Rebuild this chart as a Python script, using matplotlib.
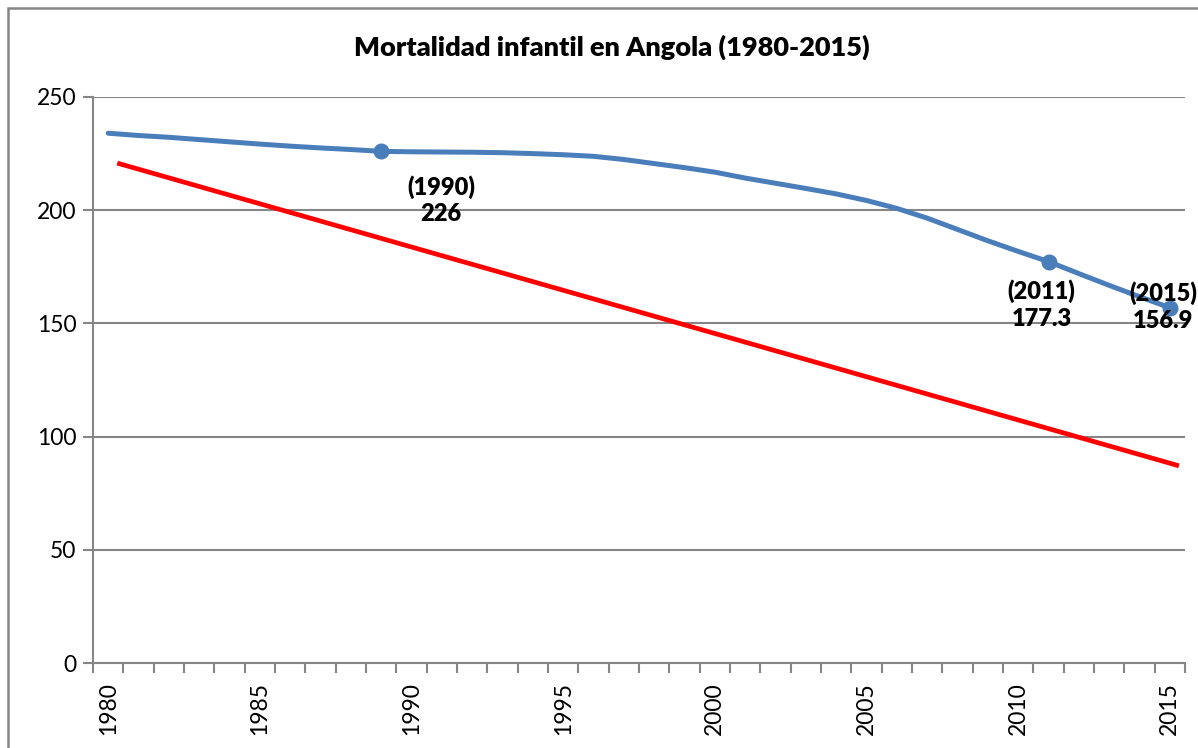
import matplotlib
matplotlib.use("Agg")
import matplotlib.pyplot as plt
from matplotlib.patches import Rectangle
import numpy as np

# ---- data ----
years = list(range(1980, 2016))
mortality = [234.0, 233.0, 232.2, 231.2, 230.2, 229.2, 228.3, 227.5, 226.8, 226.0,
             225.8, 225.7, 225.6, 225.4, 225.0, 224.5, 223.8, 222.4, 220.6, 218.8,
             216.8, 214.2, 211.9, 209.6, 207.2, 204.3, 200.8, 196.5, 191.5, 186.5,
             181.8, 177.3, 172.0, 166.8, 161.8, 156.9]
marker_years = [1989, 2011, 2015]
marker_labels = ["(1990)\n226", "(2011)\n177.3", "(2015)\n156.9"]
target_years = [1980, 2015]
target_values = [220.8, 87.1]
tick_years = [1980, 1985, 1990, 1995, 2000, 2005, 2010, 2015]
y_ticks = [0, 50, 100, 150, 200, 250]
title = "Mortalidad infantil en Angola (1980-2015)"

GRAY = "#868686"
BLUE = "#4A7EBB"
RED = "#FF0000"
FONT = "Lato"

W, H = 1198, 748
fig = plt.figure(figsize=(W / 100, H / 100), dpi=100)

# outer chart border
fig.patches.append(Rectangle((8 / W, -0.1), 1.2, (H - 8) / H + 0.1, transform=fig.transFigure,
                             fill=False, edgecolor=GRAY, linewidth=1.8))

ax = fig.add_axes([93 / W, (H - 663) / H, (1185 - 93) / W, (663 - 97) / H])

ax.plot(years, mortality, color=BLUE, linewidth=3.6, solid_capstyle="round", zorder=3)
mv = [mortality[years.index(y)] for y in marker_years]
ax.plot(marker_years, mv, "o", color=BLUE, markersize=10.5, zorder=4)

ax.plot([y + 0.3 for y in target_years], target_values, color=RED, linewidth=3.4,
        solid_capstyle="butt", zorder=2)

# labels
offsets = [(43, -17), (-5, -13), (-5, 19)]
for y, v, lab, off in zip(marker_years, mv, marker_labels, offsets):
    ax.annotate(lab, (y, v), xytext=off, textcoords="offset points", ha="center", va="top",
                fontsize=17, fontweight="heavy", family=FONT, linespacing=1.25, zorder=5)

ax.set_xlim(1979.5, 2015.5)
ax.set_ylim(0, 250)
ax.set_yticks(y_ticks)
ax.set_yticklabels([str(t) for t in y_ticks], fontsize=16.5, family=FONT)
ax.set_xticks(tick_years)
ax.set_xticklabels([str(t) for t in tick_years], rotation=90, fontsize=16.5, family=FONT)
ax.set_xticks(np.arange(1979.5, 2016, 1.0), minor=True)
ax.tick_params(axis="x", which="major", length=0, pad=14)
ax.tick_params(axis="x", which="minor", length=7, width=1.5, color=GRAY, direction="out")
ax.tick_params(axis="y", length=7, width=1.5, color=GRAY, direction="out", pad=5)

ax.grid(axis="y", color=GRAY, linewidth=1.5)
ax.set_axisbelow(True)
for s in ["top", "right"]:
    ax.spines[s].set_visible(False)
for s in ["left", "bottom"]:
    ax.spines[s].set_color(GRAY)
    ax.spines[s].set_linewidth(1.5)

fig.text(612 / W, 1 - 47 / H, title, ha="center", va="center", fontsize=19.5,
         fontweight="heavy", family=FONT)

fig.savefig("out.png", dpi=100)
